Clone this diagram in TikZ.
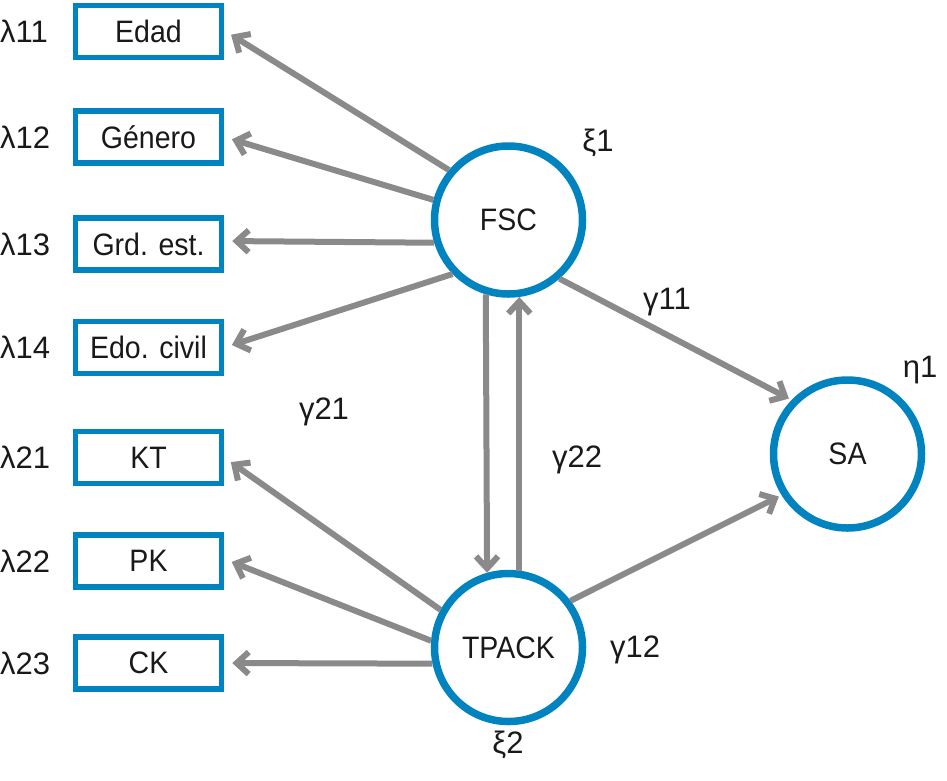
\documentclass[tikz,border=0pt]{standalone}
\usepackage{fontspec}
\setmainfont{Liberation Sans}[FakeStretch=0.92]
\newfontfamily\lblfont{Liberation Sans}
\usetikzlibrary{arrows.meta}
\definecolor{semblue}{HTML}{0083BF}
\definecolor{semgray}{HTML}{8A8A8A}
\begin{document}
\begin{tikzpicture}[x=1pt,y=-1pt,
  obs/.style={draw=semblue,line width=5.5pt,minimum width=146pt,minimum height=52pt,inner sep=0pt,font=\fontsize{31}{31}\selectfont,text=black!90},
  lat/.style={draw=semblue,line width=7.5pt,circle,minimum size=148pt,inner sep=0pt,font=\fontsize{31}{31}\selectfont,text=black!90},
  lbl/.style={font=\lblfont\fontsize{31}{31}\selectfont,text=black!90,inner sep=0pt},
  conn/.style={draw=semgray,line width=6pt,-{Straight Barb[length=12pt,width=22pt]}},
  ]
\useasboundingbox (0,0) rectangle (947,780);
% observed variables
\node[obs] (edad)  at (148.5,31.5) {Edad};
\node[obs] (gen)   at (148.5,137) {Género};
\node[obs] (grd)   at (148.5,244) {Grd. est.};
\node[obs] (edo)   at (148.5,347.5) {Edo. civil};
\node[obs] (kt)    at (148.5,457.5) {KT};
\node[obs] (pk)    at (148.5,561) {PK};
\node[obs] (ck)    at (148.5,663) {CK};
% lambda labels
\node[lbl,anchor=west] (l11) at (0,31) {λ11};
\node[lbl,anchor=west] (l12) at (0,137) {λ12};
\node[lbl,anchor=west] (l13) at (0,244) {λ13};
\node[lbl,anchor=west] (l14) at (0,347) {λ14};
\node[lbl,anchor=west] (l21) at (0,457) {λ21};
\node[lbl,anchor=west] (l22) at (0,561) {λ22};
\node[lbl,anchor=west] (l23) at (0,663) {λ23};
% latent variables
\node[lat] (fsc)   at (508.5,220) {FSC};
\node[lat] (tpack) at (508.5,647.5) {TPACK};
\node[lat] (sa)    at (847.5,454) {SA};
% other labels
\node[lbl] (xi1) at (598,143) {ξ1};
\node[lbl] (g11) at (667,302) {γ11};
\node[lbl] (eta1) at (920,370) {η1};
\node[lbl] (g21) at (324,412) {γ21};
\node[lbl] (g22) at (577,460) {γ22};
\node[lbl] (g12) at (635,650) {γ12};
\node[lbl] (xi2) at (508,745) {ξ2};
% connectors
\draw[conn,shorten >=8pt] (fsc.140) -- ([yshift=1]edad.east);
\draw[conn,shorten >=8pt] (fsc.165) -- (gen.east);
\draw[conn,shorten >=8pt] (fsc.197) -- ([yshift=3]grd.east);
\draw[conn,shorten >=8pt] (fsc.224) -- (edo.east);
\draw[conn,shorten >=8pt] (tpack.151) -- (kt.east);
\draw[conn,shorten >=8pt] (tpack.175) -- ([yshift=2]pk.east);
\draw[conn,shorten >=8pt] (tpack.192) -- (ck.east);
\draw[conn] (fsc.253.6) -- (tpack.106.4);
\draw[conn] (tpack.82) -- (fsc.278);
\draw[conn,shorten >=3pt] (fsc.311) -- (sa.136);
\draw[conn,shorten >=3pt] (tpack.37) -- (sa.212);
\end{tikzpicture}
\end{document}
